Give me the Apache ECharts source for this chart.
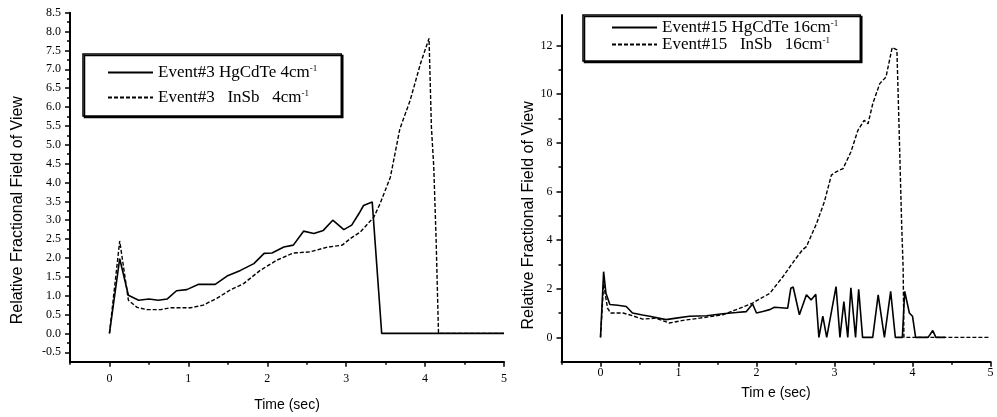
<!DOCTYPE html>
<html>
<head>
<meta charset="utf-8">
<script src="https://cdn.jsdelivr.net/npm/echarts@6/dist/echarts.min.js"></script>
<style>html,body{margin:0;padding:0;background:#fff}#c{width:997px;height:417px}</style>
</head>
<body>
<div id="c"></div>
<script>
// ---- Left panel: Event#3 ----
var ev3HgT = [0, 0.13, 0.24, 0.37, 0.5, 0.62, 0.73, 0.85, 0.98, 1.13, 1.34, 1.49, 1.66, 1.83, 1.96, 2.06, 2.21, 2.33, 2.46, 2.59, 2.71, 2.83, 2.97, 3.07, 3.16, 3.22, 3.33, 3.45, 5.0];
var ev3HgV = [0, 1.98, 1.01, 0.88, 0.91, 0.88, 0.91, 1.13, 1.16, 1.30, 1.30, 1.52, 1.67, 1.85, 2.12, 2.13, 2.29, 2.34, 2.71, 2.65, 2.73, 3.0, 2.75, 2.87, 3.17, 3.39, 3.48, 0, 0];
var ev3InT = [0, 0.13, 0.24, 0.35, 0.48, 0.65, 0.77, 1.03, 1.19, 1.36, 1.53, 1.70, 1.91, 2.12, 2.33, 2.54, 2.75, 2.95, 3.05, 3.18, 3.35, 3.43, 3.56, 3.68, 3.81, 3.94, 4.05, 4.08, 4.11, 4.14, 4.17, 5.0];
var ev3InV = [0, 2.45, 0.88, 0.69, 0.63, 0.63, 0.68, 0.68, 0.75, 0.93, 1.15, 1.32, 1.67, 1.94, 2.13, 2.16, 2.28, 2.34, 2.51, 2.69, 3.08, 3.44, 4.14, 5.42, 6.17, 7.14, 7.82, 5.47, 4.41, 2.47, 0, 0];

// ---- Right panel: Event#15 ----
var ev15HgT = [0, 0.04, 0.07, 0.12, 0.22, 0.33, 0.41, 0.54, 0.63, 0.84, 0.97, 1.14, 1.36, 1.57, 1.74, 1.87, 1.95, 2.0, 2.08, 2.17, 2.23, 2.40, 2.44, 2.47, 2.55, 2.64, 2.70, 2.76, 2.80, 2.85, 2.90, 3.02, 3.07, 3.12, 3.17, 3.21, 3.27, 3.31, 3.36, 3.49, 3.56, 3.58, 3.64, 3.72, 3.78, 3.87, 3.90, 3.96, 4.0, 4.04, 4.2, 4.26, 4.3, 4.42];
var ev15HgV = [0, 2.7, 1.81, 1.35, 1.32, 1.27, 1.0, 0.92, 0.87, 0.73, 0.79, 0.87, 0.89, 0.97, 1.02, 1.06, 1.37, 1.0, 1.06, 1.14, 1.24, 1.2, 2.02, 2.07, 0.93, 1.75, 1.54, 1.77, 0, 0.87, 0, 2.09, 0, 1.47, 0, 2.04, 0, 1.98, 0, 0, 1.75, 1.79, 0, 1.89, 0, 0, 1.89, 1.0, 0.87, 0, 0, 0.28, 0, 0];
var ev15InT = [0, 0.04, 0.09, 0.13, 0.29, 0.41, 0.54, 0.71, 0.88, 1.06, 1.27, 1.57, 1.74, 1.95, 2.17, 2.34, 2.49, 2.59, 2.64, 2.77, 2.87, 2.96, 3.02, 3.11, 3.21, 3.30, 3.38, 3.43, 3.49, 3.58, 3.66, 3.74, 3.80, 3.83, 3.86, 3.88, 3.89, 5.0];
var ev15InV = [0, 2.2, 1.2, 1.0, 1.0, 0.89, 0.75, 0.79, 0.59, 0.70, 0.79, 0.93, 1.14, 1.41, 1.81, 2.5, 3.18, 3.6, 3.73, 4.68, 5.57, 6.67, 6.8, 6.94, 7.62, 8.51, 8.92, 8.78, 9.6, 10.43, 10.7, 11.92, 11.82, 8.38, 4.76, 2.85, 0, 0];

var names = ['Event#3 HgCdTe 4cm-1', 'Event#3   InSb   4cm-1', 'Event#15 HgCdTe 16cm-1', 'Event#15   InSb   16cm-1'];
var xMajor = [0, 1, 2, 3, 4, 5];
var xMinor = [-0.5, 0.5, 1.5, 2.5, 3.5, 4.5];
var yLeftMajor = [-0.5, 0, 0.5, 1, 1.5, 2, 2.5, 3, 3.5, 4, 4.5, 5, 5.5, 6, 6.5, 7, 7.5, 8, 8.5];
var yLeftMinor = [-0.25, 0.25, 0.75, 1.25, 1.75, 2.25, 2.75, 3.25, 3.75, 4.25, 4.75, 5.25, 5.75, 6.25, 6.75, 7.25, 7.75, 8.25];
var yRightMajor = [0, 2, 4, 6, 8, 10, 12];
var yRightMinor = [1, 3, 5, 7, 9, 11];

function zip(a, b) { return a.map(function (t, i) { return [t, b[i]]; }); }

var serif = 'Liberation Serif';
var sans = 'Liberation Sans';
var axLine = { show: true, onZero: false, lineStyle: { color: '#000', width: 2 } };

function xAxes(grid, name, gap, margin) {
  return [
    { type: 'value', gridIndex: grid, position: 'bottom', min: -0.5, max: 5,
      axisLine: axLine, splitLine: { show: false },
      axisTick: { customValues: xMajor, length: 5, lineStyle: { color: '#000', width: 1.5 } },
      axisLabel: { customValues: xMajor, color: '#000', fontFamily: serif, fontSize: 12, margin: margin },
      name: name, nameLocation: 'middle', nameGap: gap,
      nameTextStyle: { color: '#000', fontFamily: sans, fontSize: 14 } },
    { type: 'value', gridIndex: grid, position: 'bottom', min: -0.5, max: 5,
      axisLine: { show: false, onZero: false }, splitLine: { show: false },
      axisTick: { customValues: xMinor, length: 3, lineStyle: { color: '#000', width: 1.5 } },
      axisLabel: { show: false } }
  ];
}
function yAxes(grid, min, max, major, minor, fmt, gap, shift) {
  return [
    { type: 'value', gridIndex: grid, position: 'left', min: min, max: max,
      axisLine: axLine, splitLine: { show: false },
      axisTick: { customValues: major, length: 5, lineStyle: { color: '#000', width: 1.5 } },
      axisLabel: { customValues: major, color: '#000', fontFamily: serif, fontSize: 12, margin: 9, formatter: fmt },
      name: 'Relative Fractional Field of View', nameLocation: 'middle', nameGap: gap,
      nameTextStyle: { color: '#000', fontFamily: sans, fontSize: 16, padding: [0, shift, 0, 0] } },
    { type: 'value', gridIndex: grid, position: 'left', min: min, max: max,
      axisLine: { show: false, onZero: false }, splitLine: { show: false },
      axisTick: { customValues: minor, length: 3, lineStyle: { color: '#000', width: 1.5 } },
      axisLabel: { show: false } }
  ];
}

function legend(idx, data, left, top, pad, gap, fs) {
  return {
    seriesIndex: idx, data: data, orient: 'vertical', left: left, top: top,
    itemWidth: 45, itemHeight: 14, itemGap: gap, padding: pad,
    selectedMode: false,
    itemStyle: { opacity: 0 },
    borderColor: '#000', borderWidth: 1.5, backgroundColor: '#fff',
    shadowColor: '#000', shadowOffsetX: 1.5, shadowOffsetY: 1.5, shadowBlur: 0,
    textStyle: { color: '#000', fontFamily: serif, fontSize: fs,
      rich: { sup: { fontSize: 9, fontFamily: serif, verticalAlign: 'top', color: '#000' } } },
    formatter: function (n) { return n.replace(/-1$/, '{sup|-1}'); }
  };
}

function line(name, xi, yi, data, dashed) {
  return { type: 'line', name: name, xAxisIndex: xi, yAxisIndex: yi, data: data,
    symbol: 'none', animation: false,
    lineStyle: { color: '#000', width: dashed ? 1.4 : 1.6, type: dashed ? [4, 2] : 'solid' },
    itemStyle: { color: '#000' } };
}

var chart = echarts.init(document.getElementById('c'), null, { renderer: 'canvas' });
chart.setOption({
  backgroundColor: '#fff',
  animation: false,
  grid: [
    { left: 70, top: 12.7, width: 434, height: 349 },
    { left: 561.5, top: 15, width: 429, height: 346.7 }
  ],
  xAxis: xAxes(0, 'Time (sec)', 36, 11).concat(xAxes(1, 'Tim e (sec)', 24, 5)),
  yAxis: yAxes(0, -0.75, 8.5, yLeftMajor, yLeftMinor, function (v) { return v.toFixed(1); }, 44, 46)
    .concat(yAxes(1, -1, 13.25, yRightMajor, yRightMinor, function (v) { return String(v); }, 24, 54)),
  legend: [
    legend([0, 1], [names[0], names[1]], 83, 54, [10, 24, 10, 24], 8, 17),
    legend([2, 3], [names[2], names[3]], 583, 15, [4, 22, 8, 28], 0, 17)
  ],
  series: [
    line(names[0], 0, 0, zip(ev3HgT, ev3HgV), false),
    line(names[1], 0, 0, zip(ev3InT, ev3InV), true),
    line(names[2], 2, 2, zip(ev15HgT, ev15HgV), false),
    line(names[3], 2, 2, zip(ev15InT, ev15InV), true)
  ]
});
</script>
</body>
</html>
